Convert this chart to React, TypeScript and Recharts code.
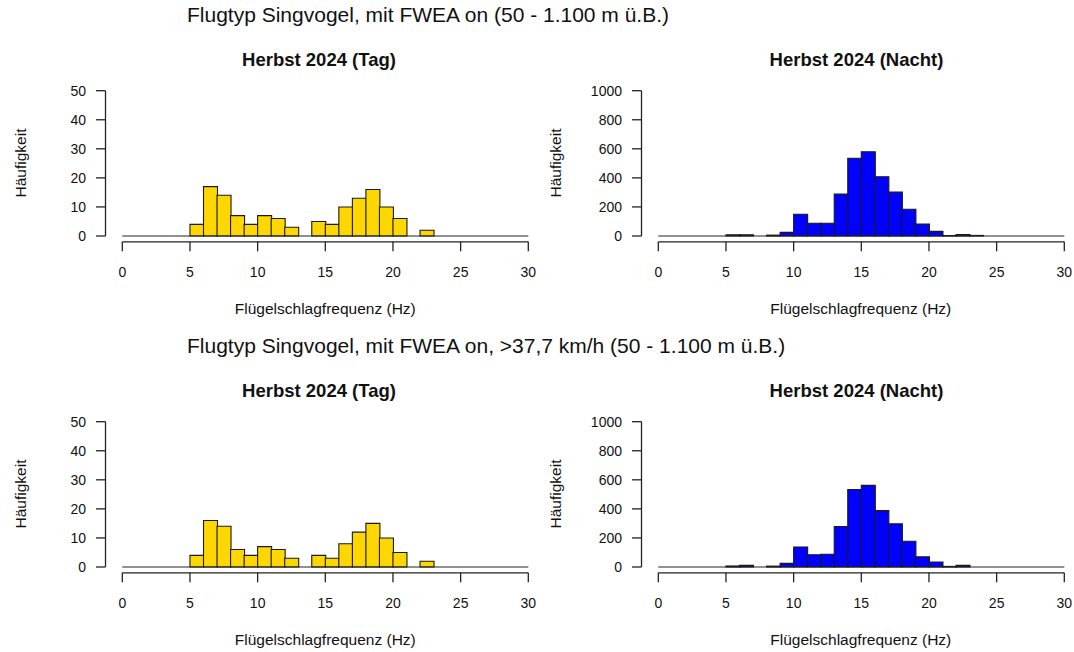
import React from "react";
import { BarChart, Bar, XAxis, YAxis, ReferenceLine } from "recharts";

// histogram bins, 1 Hz wide
const binStart = [0, 1, 2, 3, 4, 5, 6, 7, 8, 9, 10, 11, 12, 13, 14, 15, 16, 17, 18, 19, 20, 21, 22, 23, 24, 25, 26, 27, 28, 29];
const binWidth = 1;

// counts per bin, all speeds
const tagAll = [0, 0, 0, 0, 0, 4, 17, 14, 7, 4, 7, 6, 3, 0, 5, 4, 10, 13, 16, 10, 6, 0, 2, 0, 0, 0, 0, 0, 0, 0];
const nachtAll = [0, 0, 0, 0, 0, 8, 8, 0, 6, 25, 150, 88, 88, 288, 535, 580, 408, 302, 184, 82, 32, 3, 10, 4, 0, 0, 0, 0, 0, 0];

// counts per bin, > 37,7 km/h
const tagFast = [0, 0, 0, 0, 0, 4, 16, 14, 6, 4, 7, 6, 3, 0, 4, 3, 8, 12, 15, 10, 5, 0, 2, 0, 0, 0, 0, 0, 0, 0];
const nachtFast = [0, 0, 0, 0, 0, 7, 11, 0, 6, 25, 138, 84, 88, 279, 533, 562, 388, 297, 177, 70, 34, 4, 11, 0, 0, 0, 0, 0, 0, 0];

const xTicks = [0, 5, 10, 15, 20, 25, 30];
const tagTicks = [0, 10, 20, 30, 40, 50];
const nachtTicks = [0, 200, 400, 600, 800, 1000];

const titleAll = "Flugtyp Singvogel, mit FWEA on (50 - 1.100 m ü.B.)";
const titleFast = "Flugtyp Singvogel, mit FWEA on, >37,7 km/h (50 - 1.100 m ü.B.)";
const titleTag = "Herbst 2024 (Tag)";
const titleNacht = "Herbst 2024 (Nacht)";
const xLabel = "Flügelschlagfrequenz (Hz)";
const yLabel = "Häufigkeit";

const FONT = '"Liberation Sans", Arial, Helvetica, sans-serif';
const INK = "#111";
const LINE = "#222";

// panel frame (px inside a panel)
const W = 560;
const H = 300;
const X0_PX = 122.3; // x = 0
const X30_PX = 528.3; // x = 30
const Y_TOP_TICK_PX = 90.7; // y = max tick
const Y0_PX = 236; // y = 0
const Y_AXIS_PX = 105.5; // base-R style detached axes
const X_AXIS_PX = 241.8;
const TICK_LEN = 9.5;

// plot area is a bit larger than the axes so they are drawn as reference segments
const PLOT_L = 90;
const PLOT_R = 544.5;
const PLOT_T = 84.9;
const PLOT_B = 256;
const Y_AXIS_W = 60;
const X_AXIS_H = 30;

const PX_PER_X = (X30_PX - X0_PX) / 30;
const toX = (px: number) => (px - X0_PX) / PX_PER_X;

type PanelProps = {
  counts: number[];
  yTicks: number[];
  fill: string;
  left: number;
  top: number;
  title: string;
  titleX: number;
};

const Panel = ({ counts, yTicks, fill, left, top, title, titleX }: PanelProps) => {
  const yMaxTick = yTicks[yTicks.length - 1];
  const yPerPx = yMaxTick / (Y0_PX - Y_TOP_TICK_PX);
  const toY = (px: number) => (Y0_PX - px) * yPerPx;
  const rows = binStart.map((b, i) => ({ mid: b + binWidth / 2, count: counts[i] }));
  const xEnd = binStart[binStart.length - 1] + binWidth;

  const yAxisX = toX(Y_AXIS_PX);
  const yTickX = toX(Y_AXIS_PX - TICK_LEN);
  const xAxisY = toY(X_AXIS_PX);
  const xTickY = toY(X_AXIS_PX + TICK_LEN);

  return (
    <div style={{ position: "absolute", left, top, width: W, height: H }}>
      <BarChart
        width={W}
        height={H}
        data={rows}
        barCategoryGap={0}
        margin={{ top: PLOT_T, left: PLOT_L - Y_AXIS_W, right: W - PLOT_R, bottom: H - PLOT_B - X_AXIS_H }}
      >
        <XAxis
          type="number"
          dataKey="mid"
          domain={[toX(PLOT_L), toX(PLOT_R)]}
          ticks={xTicks}
          height={X_AXIS_H}
          axisLine={false}
          tickLine={false}
          tickSize={0}
          tickMargin={266.7 - PLOT_B}
          tick={{ fontSize: 14, fill: INK, fontFamily: FONT }}
        />
        <YAxis
          type="number"
          domain={[toY(PLOT_B), toY(PLOT_T)]}
          ticks={yTicks}
          width={Y_AXIS_W}
          axisLine={false}
          tickLine={false}
          tickSize={0}
          tickMargin={PLOT_L - 86}
          tick={{ fontSize: 14, fill: INK, fontFamily: FONT }}
        />
        {/* x axis: line over the tick range plus tick marks */}
        <ReferenceLine
          segment={[{ x: xTicks[0], y: xAxisY }, { x: xTicks[xTicks.length - 1], y: xAxisY }]}
          stroke={LINE}
          strokeWidth={1.3}
          ifOverflow="visible"
        />
        {xTicks.map((t) => (
          <ReferenceLine
            key={`xt-${t}`}
            segment={[{ x: t, y: xAxisY }, { x: t, y: xTickY }]}
            stroke={LINE}
            strokeWidth={1.3}
            ifOverflow="visible"
          />
        ))}
        {/* y axis */}
        <ReferenceLine
          segment={[{ x: yAxisX, y: yTicks[0] }, { x: yAxisX, y: yMaxTick }]}
          stroke={LINE}
          strokeWidth={1.3}
          ifOverflow="visible"
        />
        {yTicks.map((t) => (
          <ReferenceLine
            key={`yt-${t}`}
            segment={[{ x: yTickX, y: t }, { x: yAxisX, y: t }]}
            stroke={LINE}
            strokeWidth={1.3}
            ifOverflow="visible"
          />
        ))}
        {/* empty bins collapse onto the zero line */}
        <ReferenceLine
          segment={[{ x: binStart[0], y: 0 }, { x: xEnd, y: 0 }]}
          stroke={LINE}
          strokeWidth={1.2}
          ifOverflow="visible"
        />
        <Bar dataKey="count" fill={fill} stroke="#1a1a1a" strokeWidth={1.1} isAnimationActive={false} />
      </BarChart>
      <div
        style={{
          position: "absolute",
          left: titleX,
          top: 60,
          transform: "translate(-50%, -50%)",
          fontWeight: "bold",
          fontSize: 18.5,
          whiteSpace: "nowrap",
          color: INK,
        }}
      >
        {title}
      </div>
      <div
        style={{
          position: "absolute",
          left: (X0_PX + X30_PX) / 2,
          top: 309,
          transform: "translate(-50%, -50%)",
          fontSize: 15.5,
          whiteSpace: "nowrap",
          color: INK,
        }}
      >
        {xLabel}
      </div>
      <div
        style={{
          position: "absolute",
          left: 20.5,
          top: 163,
          transform: "translate(-50%, -50%) rotate(-90deg)",
          fontSize: 15.5,
          whiteSpace: "nowrap",
          color: INK,
        }}
      >
        {yLabel}
      </div>
    </div>
  );
};

const App = () => {
  const rowGap = 330.5;
  const colGap = 535.5;
  const mainStyle: React.CSSProperties = {
    position: "absolute",
    left: 187,
    transform: "translateY(-50%)",
    fontSize: 21,
    whiteSpace: "nowrap",
    color: INK,
  };
  return (
    <div
      style={{
        position: "absolute",
        left: 0,
        top: 0,
        width: 1074,
        height: 652,
        overflow: "hidden",
        background: "#fff",
        fontFamily: FONT,
      }}
    >
      <div style={{ ...mainStyle, top: 15 }}>{titleAll}</div>
      <div style={{ ...mainStyle, top: 15 + rowGap }}>{titleFast}</div>
      <Panel counts={tagAll} yTicks={tagTicks} fill="#FFD700" left={0} top={0} title={titleTag} titleX={319} />
      <Panel counts={nachtAll} yTicks={nachtTicks} fill="#0000FF" left={colGap} top={0} title={titleNacht} titleX={321} />
      <Panel counts={tagFast} yTicks={tagTicks} fill="#FFD700" left={0} top={rowGap} title={titleTag} titleX={319} />
      <Panel counts={nachtFast} yTicks={nachtTicks} fill="#0000FF" left={colGap} top={rowGap} title={titleNacht} titleX={321} />
    </div>
  );
};

export default App;
